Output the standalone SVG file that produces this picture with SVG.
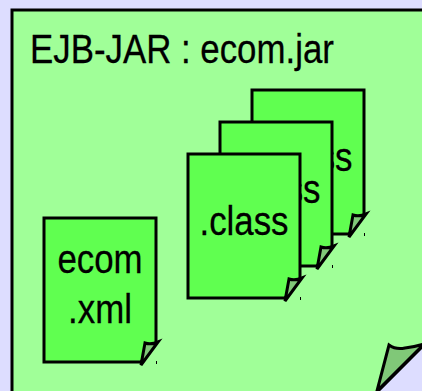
<svg xmlns="http://www.w3.org/2000/svg" width="422" height="391" viewBox="0 0 422 391">
<style>
.outer{fill:#a0ff98;stroke:#000;stroke-width:3}
.page{fill:#60ff50;stroke:#000;stroke-width:3}
.fold{fill:#80c878;stroke:#000;stroke-width:3;stroke-linejoin:miter}
.bigfold{fill:#80c878;stroke:#000;stroke-width:3}
.t{font-family:"Liberation Sans",Arial,sans-serif;font-size:41px;fill:#000;stroke:#000;stroke-width:.3;text-anchor:middle}
.tl{font-family:"Liberation Sans",Arial,sans-serif;font-size:41px;fill:#000;stroke:#000;stroke-width:.3}
</style>
<defs>
<g id="doc">
<path class="page" d="M0,0H112V125L97,144H0Z"/>
<path class="fold" d="M97,147L101,125Q107,127 114,124Z"/>
<rect x="112" y="143" width="1" height="3" fill="#000"/>
</g>
</defs>
<rect width="422" height="391" fill="#ddddff"/>
<g id="jar">
<path d="M12,10H424V345L376,393H12Z" class="outer"/>
<path class="bigfold" d="M377,391L389,345Q396,350 405,348Q414,347 424,344Z"/>
<text class="tl" transform="translate(30,62.5) scale(.85,1)">EJB-JAR : ecom.jar</text>
</g>
<g id="class3">
<use href="#doc" x="252" y="90"/>
<text class="t" transform="translate(308,170.5) scale(.85,1)">.class</text>
</g>
<g id="class2">
<use href="#doc" x="220" y="122"/>
<text class="t" transform="translate(276,202.5) scale(.85,1)">.class</text>
</g>
<g id="class1">
<use href="#doc" x="188" y="154"/>
<text class="t" transform="translate(244,234.5) scale(.85,1)">.class</text>
</g>
<g id="xml">
<use href="#doc" x="44" y="218"/>
<text class="t" transform="translate(100,273) scale(.85,1)">ecom</text>
<text class="t" transform="translate(100,323) scale(.85,1)">.xml</text>
</g>
<g id="connectors"/>
</svg>
